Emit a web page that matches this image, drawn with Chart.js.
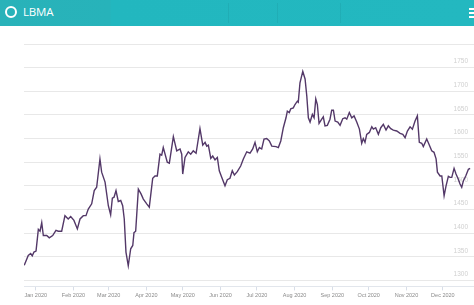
<!DOCTYPE html>
<html>
<head>
<meta charset="utf-8">
<script src="https://cdn.jsdelivr.net/npm/chart.js@4.4.0/dist/chart.umd.min.js"></script>
<style>
  html, body { margin:0; padding:0; width:474px; height:305px; overflow:hidden; background:#fff; }
  #hdr { position:absolute; left:0; top:0; width:474px; height:26px;
         background:linear-gradient(90deg,#29b2b9 0px,#27b3ba 110px,#22b7bf 111px,#23b8c0 474px); }
  #logo { position:absolute; left:5px; top:6px; width:8px; height:8px; border:2.5px solid #fff; border-radius:50%; }
  #brand { position:absolute; left:23px; top:4px; color:#fff; font:11.5px "Open Sans",sans-serif; letter-spacing:-0.2px; }
  .div { position:absolute; top:3px; width:1px; height:20px; background:rgba(0,0,0,0.05); }
  .bar { position:absolute; left:469px; width:8px; height:2px; background:#fff; }
  #wrap { position:absolute; left:0; top:26px; width:474px; height:279px; }
</style>
</head>
<body>
<div id="hdr">
  <div id="logo"></div>
  <div id="brand">LBMA</div>
  <div class="div" style="left:228px"></div>
  <div class="div" style="left:277px"></div>
  <div class="div" style="left:340px"></div>
  <div class="bar" style="top:8px"></div>
  <div class="bar" style="top:12px"></div>
  <div class="bar" style="top:16px"></div>
</div>
<div id="wrap"><canvas id="c" width="474" height="279"></canvas></div>
<script>
// Day offsets from 1 Jan 2020 and price values
const days = [-9.5,-6.2,-4.2,-2.9,-1.5,0.2,2.1,3.5,4.9,6.2,9.0,11.1,13.9,16.6,18.5,21.3,24.0,26.7,28.7,31.4,34.2,36.4,39.1,41.3,43.2,46.0,48.1,50.1,52.8,54.2,57.0,59.7,61.6,63.0,64.4,66.0,67.9,69.9,71.5,72.8,74.2,76.1,78.1,79.8,80.8,82.2,84.4,86.6,88.5,91.3,93.4,96.2,98.1,100.0,102.2,103.6,104.9,108.2,109.9,113.2,116.0,118.7,120.1,120.9,122.8,125.5,127.5,129.6,131.9,135.1,137.4,139.3,140.7,142.0,144.0,145.6,147.5,149.4,151.0,153.0,155.7,157.6,159.8,161.7,163.4,165.8,168.6,170.8,173.6,176.3,178.5,180.4,182.3,184.0,185.9,187.8,190.0,192.2,194.2,197.7,199.6,201.6,203.7,205.9,207.0,208.6,209.8,211.9,213.3,215.2,216.0,217.4,219.7,221.6,223.0,224.3,225.7,227.6,229.0,230.4,231.7,233.1,235.3,236.6,238.0,239.9,242.1,243.5,244.9,246.3,248.5,250.4,252.6,254.5,255.9,258.0,260.0,261.9,264.1,266.3,268.2,269.5,270.9,272.3,274.5,276.5,277.8,279.7,281.9,283.9,286.0,288.2,290.1,292.1,294.2,297.0,299.8,302.0,303.9,305.8,308.0,309.9,312.1,314.0,315.6,317.6,318.9,321.7,323.9,325.8,327.7,329.4,330.5,332.7,334.1,336.0,337.6,339.5,340.9,342.3,344.2,345.8,347.7,349.1,350.5,351.9,353.8,356.0,357.4];
const prices = [1332,1353,1357,1352,1360,1362,1408,1404,1422,1395,1395,1390,1395,1406,1404,1404,1437,1430,1435,1427,1409,1430,1437,1437,1451,1462,1490,1497,1557,1529,1508,1458,1439,1474,1476,1490,1467,1469,1458,1430,1360,1331,1367,1374,1401,1404,1493,1483,1472,1462,1455,1516,1521,1521,1567,1565,1581,1550,1548,1604,1574,1578,1567,1525,1560,1572,1567,1574,1569,1621,1586,1592,1584,1586,1558,1563,1555,1560,1532,1518,1500,1513,1516,1532,1523,1530,1542,1557,1572,1569,1578,1592,1572,1581,1578,1599,1600,1595,1584,1583,1581,1595,1623,1644,1658,1655,1663,1665,1672,1679,1677,1718,1742,1726,1690,1644,1635,1651,1644,1684,1672,1632,1641,1646,1627,1628,1641,1660,1660,1637,1635,1628,1642,1644,1641,1655,1644,1648,1635,1620,1590,1600,1592,1609,1613,1625,1620,1623,1609,1623,1630,1618,1627,1621,1618,1616,1611,1609,1602,1616,1625,1620,1637,1648,1592,1590,1583,1599,1586,1574,1571,1557,1529,1521,1521,1479,1500,1520,1518,1518,1537,1525,1514,1504,1497,1511,1521,1535,1537];
const monthDays = [0,31,60,91,121,152,182,213,244,274,305,335];
const monthLabels = ['Jan 2020','Feb 2020','Mar 2020','Apr 2020','May 2020','Jun 2020','Jul 2020','Aug 2020','Sep 2020','Oct 2020','Nov 2020','Dec 2020'];
const yTicks = [1300,1350,1400,1450,1500,1550,1600,1650,1700,1750,1800];

const points = days.map((d,i)=>({x:d,y:prices[i]}));

new Chart(document.getElementById('c'), {
  type:'line',
  data:{ datasets:[{ data:points, borderColor:'#533868', borderWidth:1.4, pointRadius:0, tension:0, fill:false }] },
  options:{
    responsive:false, devicePixelRatio:1, animation:false,
    layout:{ padding:{ left:24, top:18, right:0, bottom:4 } },
    plugins:{ legend:{display:false}, tooltip:{enabled:false} },
    scales:{
      x:{
        type:'linear', min:-9.7, max:360.6,
        afterBuildTicks:(s)=>{ s.ticks = monthDays.map(v=>({value:v})); },
        ticks:{ autoSkip:false, maxRotation:0, padding:2, color:'#8a8a8a',
                font:{family:'Arial, "Liberation Sans", sans-serif', size:5.5},
                callback:(v,i)=>monthLabels[i] },
        grid:{ drawOnChartArea:false, drawTicks:true, tickLength:4, color:'#d8dee8' },
        border:{ display:true, color:'#e2e6ec', width:1 }
      },
      y:{
        position:'right', min:1287.4, max:1800,
        afterBuildTicks:(s)=>{ s.ticks = yTicks.map(v=>({value:v})); },
        afterFit:(s)=>{ s.width = 0; },
        ticks:{ mirror:true, padding:-6, labelOffset:-6, color:'#d0d0d0',
                font:{family:'Arial, "Liberation Sans", sans-serif', size:6.5},
                callback:(v)=> v===1800 ? '' : String(v) },
        grid:{ color:'#e8e8e8', drawTicks:false },
        border:{ display:false }
      }
    }
  }
});
</script>
</body>
</html>
